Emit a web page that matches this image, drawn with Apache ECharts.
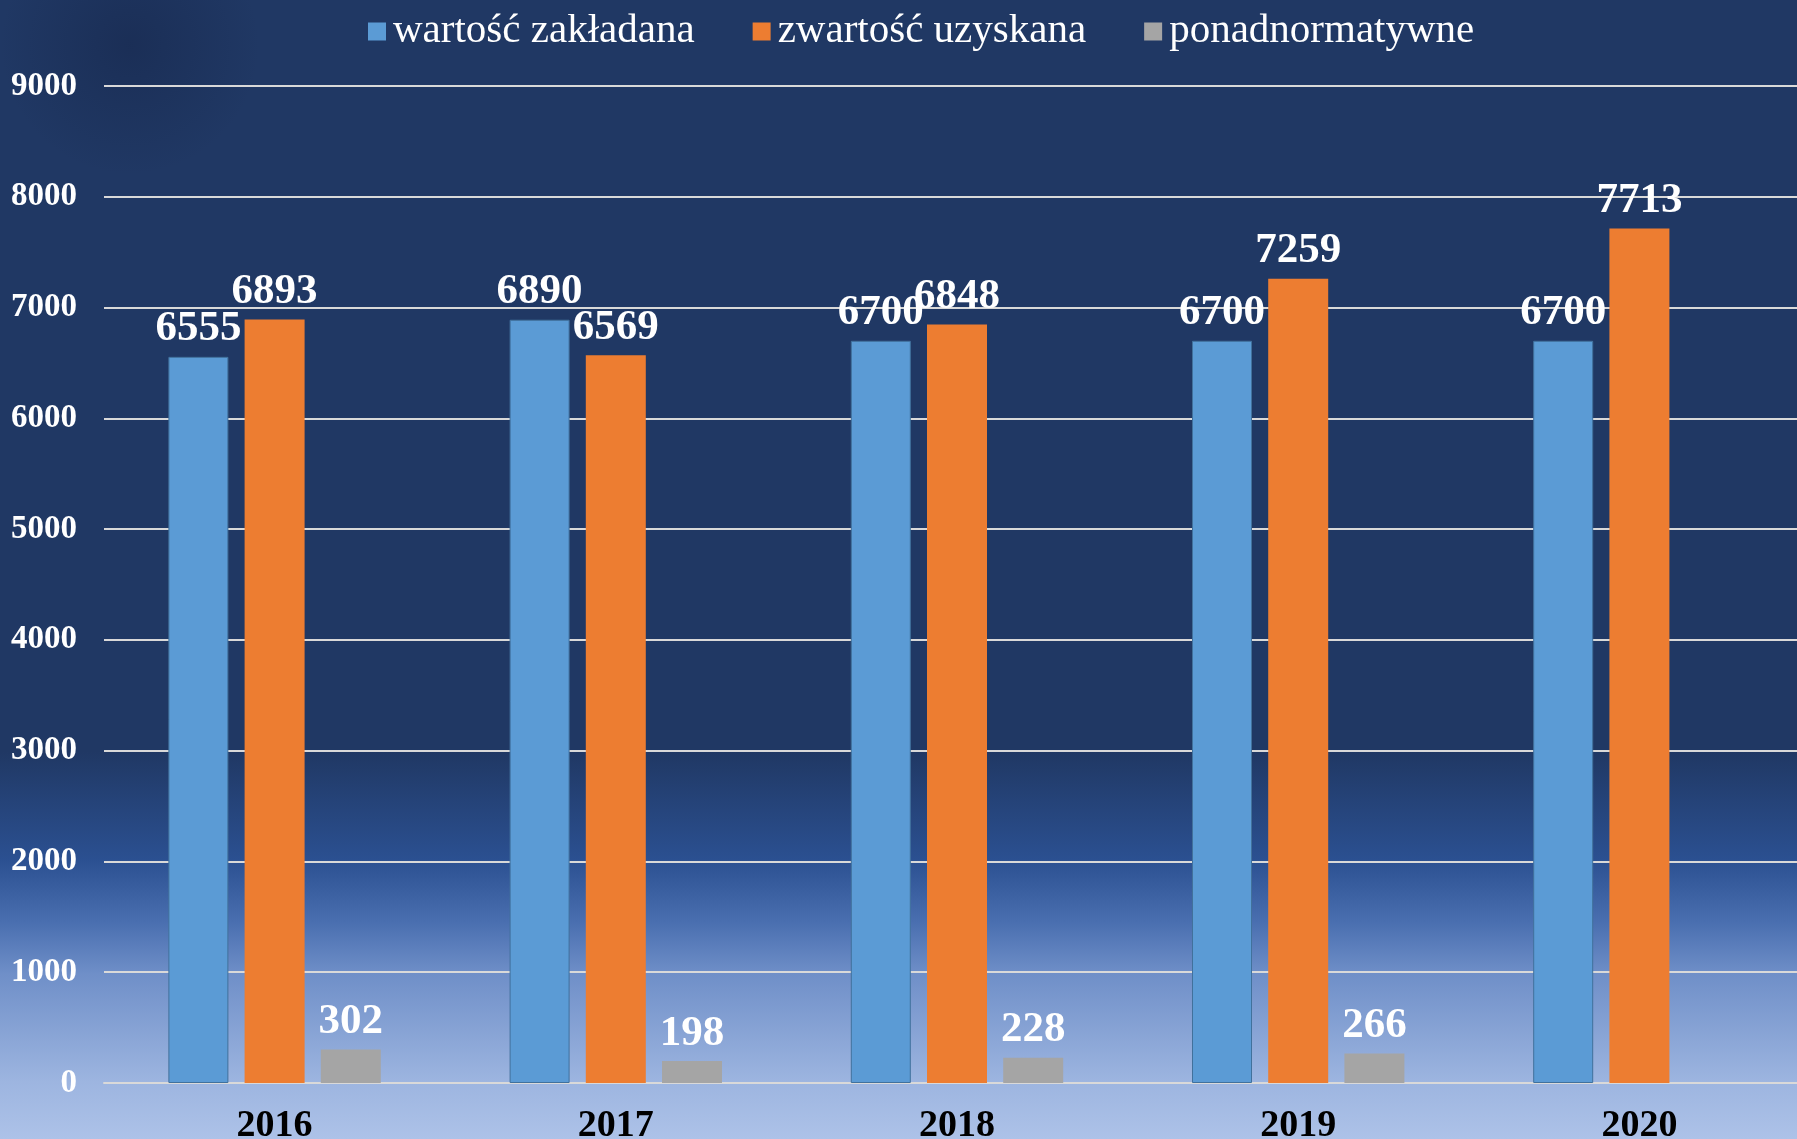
<!DOCTYPE html>
<html>
<head>
<meta charset="utf-8">
<script src="https://cdn.jsdelivr.net/npm/echarts@6/dist/echarts.min.js"></script>
<style>
html, body { margin: 0; padding: 0; }
#chart { width: 1797px; height: 1139px; }
</style>
</head>
<body>
<div id="chart"></div>
<script>
    // dane
    const years = ['2016', '2017', '2018', '2019', '2020']
    const zakladana = [6555, 6890, 6700, 6700, 6700]
    const uzyskana = [6893, 6569, 6848, 7259, 7713]
    const ponad = [302, 198, 228, 266, null]
    const yTicks = { min: 0, max: 9000, interval: 1000 }

    const FONT = '"Liberation Serif", "DejaVu Serif", serif'

    const chart = echarts.init(document.getElementById('chart'))

    const labelStyle = {
        show: true,
        position: 'top',
        distance: 6,
        color: '#ffffff',
        fontFamily: FONT,
        fontWeight: 'bold',
        fontSize: 43,
    }

    chart.setOption({
        backgroundColor: {
            type: 'linear', x: 0, y: 0, x2: 0, y2: 1,
            colorStops: [
                { offset: 0, color: '#203864' },
                { offset: 0.66, color: '#203864' },
                { offset: 0.755, color: '#2b5091' },
                { offset: 0.81, color: '#4a6fb0' },
                { offset: 0.855, color: '#6f8fc8' },
                { offset: 0.95, color: '#9db5e0' },
                { offset: 1, color: '#adc2e8' },
            ],
        },
        graphic: [
            {
                type: 'circle',
                shape: { cx: 130, cy: 45, r: 130 },
                style: {
                    fill: {
                        type: 'radial', x: 0.5, y: 0.5, r: 0.5,
                        colorStops: [
                            { offset: 0, color: 'rgba(20, 35, 70, 0.45)' },
                            { offset: 1, color: 'rgba(20, 35, 70, 0)' },
                        ],
                    },
                },
                silent: true,
                z: -1,
            },
        ],
        legend: {
            left: 363,
            top: 6,
            itemWidth: 18,
            itemHeight: 18,
            itemGap: 58,
            icon: 'rect',
            itemStyle: { borderWidth: 0 },
            textStyle: { color: '#ffffff', fontFamily: FONT, fontSize: 41, padding: [0, 0, 0, 2] },
            data: ['wartość zakładana', 'zwartość uzyskana', 'ponadnormatywne'],
        },
        grid: { left: 104, top: 86, bottom: 56, right: -13, containLabel: false, outerBoundsMode: 'none' },
        xAxis: {
            type: 'category',
            data: years,
            axisLine: { lineStyle: { color: '#d9d9d9', width: 2 } },
            axisTick: { show: false },
            axisLabel: {
                color: '#000000',
                fontFamily: FONT,
                fontWeight: 'bold',
                fontSize: 38,
                margin: 24,
            },
        },
        yAxis: {
            type: 'value',
            min: yTicks.min,
            max: yTicks.max,
            interval: yTicks.interval,
            axisLine: { show: false },
            axisTick: { show: false },
            splitLine: { lineStyle: { color: '#d9d9d9', width: 2 } },
            axisLabel: {
                color: '#ffffff',
                fontFamily: FONT,
                fontWeight: 'bold',
                fontSize: 33,
                margin: 27,
                formatter: (v) => String(v),
            },
        },
        series: [
            {
                name: 'wartość zakładana',
                type: 'bar',
                data: zakladana,
                barWidth: 60,
                barGap: '27%',
                itemStyle: { color: '#5b9bd5', borderColor: '#41719c', borderWidth: 1 },
                label: labelStyle,
            },
            {
                name: 'zwartość uzyskana',
                type: 'bar',
                data: uzyskana,
                barWidth: 60,
                barGap: '27%',
                itemStyle: { color: '#ed7d31' },
                label: labelStyle,
            },
            {
                name: 'ponadnormatywne',
                type: 'bar',
                data: ponad,
                barWidth: 60,
                barGap: '27%',
                itemStyle: { color: '#a5a5a5' },
                label: labelStyle,
            },
        ],
    })
</script>
</body>
</html>
